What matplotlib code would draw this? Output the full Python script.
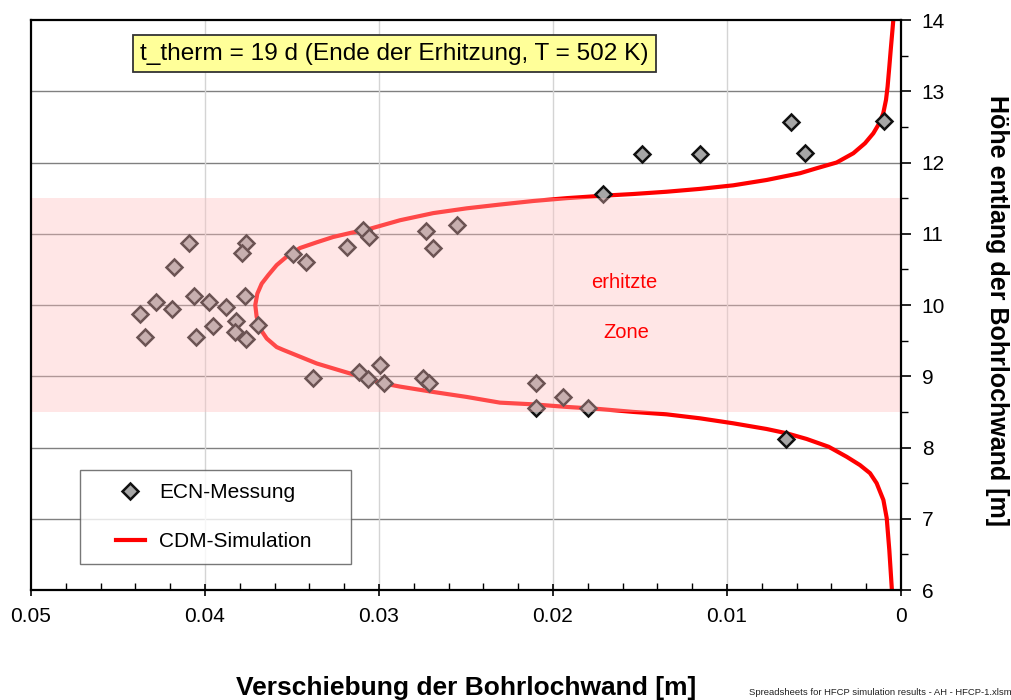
import matplotlib
matplotlib.use("Agg")
import matplotlib.pyplot as plt
from matplotlib.legend_handler import HandlerLine2D

plt.rcParams['font.family'] = ['Liberation Sans', 'DejaVu Sans']

# ECN measurements: wall displacement [m] and height [m]
ecn_disp = [0.0409, 0.03764, 0.03785, 0.04178, 0.03496, 0.0342, 0.03186, 0.0309,
            0.03056, 0.0273, 0.02688, 0.02553, 0.04063, 0.03772, 0.04282, 0.03977,
            0.04188, 0.03877, 0.04372, 0.03822, 0.03956, 0.03693, 0.03826, 0.04345,
            0.0405, 0.03764, 0.03377, 0.03115, 0.03065, 0.02992, 0.02971, 0.02745,
            0.02714, 0.02098, 0.0194, 0.021, 0.01799,
            0.01713, 0.01489, 0.01155, 0.00632, 0.00552, 0.00098, 0.0066]
ecn_height = [10.87, 10.875, 10.73, 10.54, 10.72, 10.61, 10.81, 11.05,
              10.96, 11.04, 10.80, 11.13, 10.13, 10.13, 10.04, 10.04,
              9.94, 9.97, 9.87, 9.78, 9.705, 9.72, 9.625, 9.547,
              9.547, 9.53, 8.97, 9.064, 8.957, 9.158, 8.90, 8.97,
              8.90, 8.90, 8.713, 8.55, 8.55,
              11.558, 12.12, 12.12, 12.57, 12.13, 12.58, 8.115]

# CDM simulation profile (top to bottom)
cdm_disp = [0.00044, 0.00059, 0.00067, 0.00077, 0.00086, 0.00102, 0.00125, 0.00159,
            0.00207, 0.00274, 0.0037, 0.00484, 0.0058, 0.00772, 0.00964, 0.01155,
            0.01347, 0.01539, 0.01707, 0.01921, 0.02113, 0.02305, 0.02496, 0.02688,
            0.02879, 0.03052, 0.03167, 0.03263, 0.03358, 0.03454, 0.0353, 0.03588,
            0.03636, 0.03674, 0.03699, 0.03711, 0.03703, 0.03684, 0.03645, 0.03588,
            0.0355, 0.03454, 0.03358, 0.03263, 0.03167, 0.03071, 0.02975, 0.02879,
            0.02688, 0.02496, 0.02305, 0.02113, 0.01921, 0.0173, 0.01539, 0.01347,
            0.01155, 0.00964, 0.00772, 0.00657, 0.00542, 0.00415, 0.00312, 0.00236,
            0.00178, 0.0014, 0.00101, 0.00082, 0.00067, 0.00053]
cdm_height = [14.0, 13.58, 13.345, 13.064, 12.88, 12.69, 12.55, 12.41,
              12.27, 12.13, 12.0, 11.92, 11.85, 11.755, 11.68, 11.63,
              11.59, 11.558, 11.535, 11.50, 11.46, 11.41, 11.357, 11.29,
              11.19, 11.07, 11.01, 10.955, 10.88, 10.80, 10.68, 10.56,
              10.42, 10.30, 10.16, 10.0, 9.836, 9.67, 9.53, 9.41,
              9.37, 9.275, 9.18, 9.11, 9.04, 8.97, 8.90, 8.855,
              8.78, 8.71, 8.63, 8.606, 8.57, 8.54, 8.50, 8.466,
              8.41, 8.34, 8.26, 8.20, 8.12, 8.01, 7.87, 7.754,
              7.64, 7.50, 7.263, 7.01, 6.56, 6.03]

heated_zone = (8.5, 11.5)
x_ticks = [0.05, 0.04, 0.03, 0.02, 0.01, 0.0]
x_labels = ["0.05", "0.04", "0.03", "0.02", "0.01", "0"]
y_ticks = [6, 7, 8, 9, 10, 11, 12, 13, 14]

fig = plt.figure(figsize=(10.12, 7.0), dpi=100)
ax = fig.add_axes([0.0306, 0.1571, 0.8597, 0.8143])

ax.set_xlim(0.05, 0.0)
ax.set_ylim(6, 14)

# grid
for yv in y_ticks[1:-1]:
    ax.axhline(yv, color="#808080", lw=1.0, zorder=0.5)
for xv in x_ticks[1:-1]:
    ax.axvline(xv, color="#d4d4d4", lw=1.0, zorder=0.5)

line, = ax.plot(cdm_disp, cdm_height, color="#ff0000", lw=3, zorder=2,
                solid_joinstyle="round", label="CDM-Simulation")
pts, = ax.plot(ecn_disp, ecn_height, ls="none", marker="D", ms=8,
               mfc="#a6a6a6", mec="#111111", mew=1.8, zorder=3,
               label="ECN-Messung")

# heated zone drawn over the data
ax.axhspan(heated_zone[0], heated_zone[1], color=(1.0, 0.75, 0.75), alpha=0.38,
           lw=0, zorder=4)
ax.text(0.0159, 10.32, "erhitzte", color="#ff0000", fontsize=14.5,
        ha="center", va="center", zorder=5)
ax.text(0.0158, 9.62, "Zone", color="#ff0000", fontsize=14.5,
        ha="center", va="center", zorder=5)

ax.text(0.0291, 13.53, "t_therm = 19 d (Ende der Erhitzung, T = 502 K)",
        fontsize=17.6, ha="center", va="center", zorder=6,
        bbox=dict(boxstyle="square,pad=0.3", fc="#ffff99", ec="#333333", lw=1.3))

# axes styling
for s in ax.spines.values():
    s.set_linewidth(1.6)
    s.set_color("black")
    s.set_zorder(7)

ax.set_xticks(x_ticks)
ax.set_xticklabels(x_labels)
ax.set_xticks([0.048 - 0.002 * i for i in range(24)], minor=True)
ax.tick_params(axis="x", which="major", direction="inout", length=9, width=1.2,
               labelsize=15, pad=8)
ax.tick_params(axis="x", which="minor", direction="in", length=5, width=1.0)

ax.yaxis.tick_right()
ax.set_yticks(y_ticks)
ax.set_yticks([6.5 + i for i in range(8)], minor=True)
ax.tick_params(axis="y", which="major", direction="out", length=7, width=1.2,
               labelsize=15, pad=8)
ax.tick_params(axis="y", which="minor", direction="out", length=5, width=1.0)

ax.set_xlabel("Verschiebung der Bohrlochwand [m]", fontsize=19,
              fontweight="bold", va="center")
ax.xaxis.set_label_coords(0.5, -0.172)
ax.yaxis.set_label_position("right")
ax.set_ylabel("Höhe entlang der Bohrlochwand [m]", fontsize=18,
              fontweight="bold", rotation=-90, va="center", ha="center")
ax.yaxis.set_label_coords(1.11, 0.49)

pad_handler = HandlerLine2D(xpad=1.1)
leg = ax.legend(handles=[pts, line], loc="lower left",
                bbox_to_anchor=(0.0563, 0.0456, 0.3115, 0.1), mode="expand",
                borderaxespad=0, fontsize=15, frameon=True, fancybox=False,
                borderpad=0.62, labelspacing=1.45, handlelength=2.5,
                handletextpad=0.67, numpoints=1,
                handler_map={pts: pad_handler, line: pad_handler})
leg.get_frame().set_edgecolor("#555555")
leg.get_frame().set_linewidth(1.0)
leg.set_zorder(8)

fig.text(0.740, 0.004, "Spreadsheets for HFCP simulation results - AH - HFCP-1.xlsm",
         fontsize=6.8, ha="left", va="bottom", color="#222222")

fig.savefig("out.png", dpi=100)
